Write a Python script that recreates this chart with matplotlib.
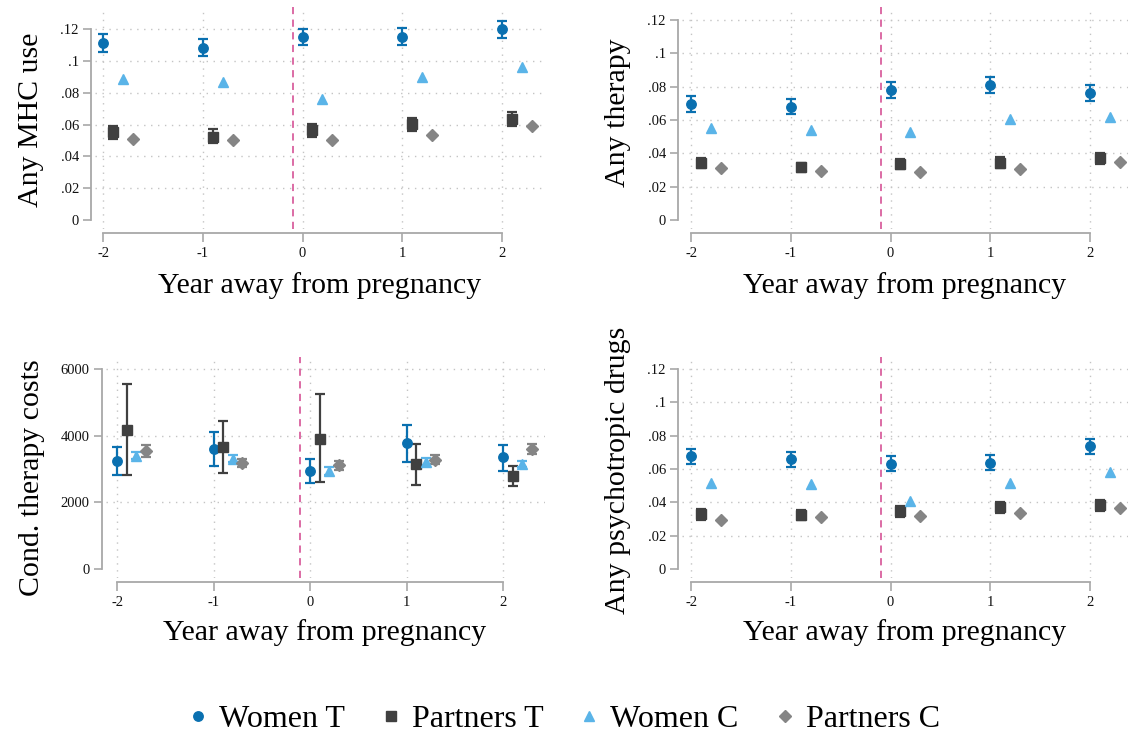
import numpy as np
import matplotlib
matplotlib.use("Agg")
import matplotlib.pyplot as plt
from matplotlib.lines import Line2D

plt.rcParams['font.family'] = ['Liberation Serif', 'DejaVu Serif']

# ---- data ----
years = [-2, -1, 0, 1, 2]
xtick_labels = ['-2', '-1', '0', '1', '2']
share_ticks = [0, 0.02, 0.04, 0.06, 0.08, 0.10, 0.12]
share_tick_labels = ['0', '.02', '.04', '.06', '.08', '.1', '.12']
cost_ticks = [0, 2000, 4000, 6000]
cost_tick_labels = ['0', '2000', '4000', '6000']
group_labels = ['Women T', 'Partners T', 'Women C', 'Partners C']

# Any MHC use
mhc_wt = [0.1110, 0.1083, 0.1152, 0.1152, 0.1198]
mhc_wt_lo = [0.1058, 0.1028, 0.1097, 0.1097, 0.1143]
mhc_wt_hi = [0.1166, 0.1135, 0.1202, 0.1206, 0.1250]
mhc_pt = [0.0553, 0.0524, 0.0563, 0.0601, 0.0632]
mhc_pt_lo = [0.0511, 0.0486, 0.0521, 0.0561, 0.0591]
mhc_pt_hi = [0.0591, 0.0570, 0.0603, 0.0641, 0.0679]
mhc_wc = [0.0884, 0.0865, 0.0758, 0.0898, 0.0963]
mhc_pc = [0.0509, 0.0505, 0.0505, 0.0534, 0.0588]

# Any therapy
ther_wt = [0.0696, 0.0680, 0.0781, 0.0811, 0.0763]
ther_wt_lo = [0.0650, 0.0636, 0.0734, 0.0763, 0.0716]
ther_wt_hi = [0.0741, 0.0724, 0.0827, 0.0857, 0.0809]
ther_pt = [0.0343, 0.0317, 0.0335, 0.0345, 0.0373]
ther_pt_lo = [0.0311, 0.0287, 0.0305, 0.0315, 0.0337]
ther_pt_hi = [0.0371, 0.0345, 0.0365, 0.0377, 0.0403]
ther_wc = [0.0552, 0.0538, 0.0530, 0.0608, 0.0620]
ther_pc = [0.0313, 0.0295, 0.0291, 0.0309, 0.0349]

# Cond. therapy costs
cost_wt = [3254, 3614, 2945, 3774, 3354]
cost_wt_lo = [2825, 3105, 2586, 3225, 2955]
cost_wt_hi = [3674, 4123, 3294, 4313, 3734]
cost_pt = [4163, 3654, 3913, 3145, 2795]
cost_pt_lo = [2815, 2895, 2616, 2526, 2476]
cost_pt_hi = [5541, 4432, 5241, 3764, 3105]
cost_wc = [3404, 3314, 2955, 3225, 3155]
cost_wc_lo = [3294, 3205, 2835, 3135, 3065]
cost_wc_hi = [3524, 3424, 3065, 3324, 3244]
cost_pc = [3544, 3195, 3115, 3284, 3604]
cost_pc_lo = [3354, 3065, 2985, 3145, 3464]
cost_pc_hi = [3734, 3304, 3245, 3424, 3744]

# Any psychotropic drugs
drug_wt = [0.0676, 0.0658, 0.0632, 0.0638, 0.0736]
drug_wt_lo = [0.0630, 0.0612, 0.0586, 0.0594, 0.0688]
drug_wt_hi = [0.0720, 0.0704, 0.0676, 0.0682, 0.0782]
drug_pt = [0.0330, 0.0324, 0.0348, 0.0372, 0.0384]
drug_pt_lo = [0.0296, 0.0294, 0.0314, 0.0338, 0.0350]
drug_pt_hi = [0.0360, 0.0354, 0.0378, 0.0402, 0.0414]
drug_wc = [0.0514, 0.0508, 0.0410, 0.0518, 0.0582]
drug_pc = [0.0296, 0.0310, 0.0318, 0.0336, 0.0368]

# ---- styling ----
W, H = 1128, 735
colors = ['#0a70b0', '#404040', '#5ab4e8', '#858585']
markers = ['o', 's', '^', 'D']
msizes = [6.8, 6.8, 7.8, 5.8]
offsets = [0.0, 0.1, 0.2, 0.3]
axis_col = '#a8a8a8'
grid_col = '#c4c4c4'
px = 0.72  # pixels -> points

fig = plt.figure(figsize=(W / 100, H / 100), dpi=100)


def panel(box, spine_x, xaxis_y, xpx, ypx, yticks, yticklabels, series,
          ylabel, ylab_pos, xlab_pos):
    left, right, top, bottom = box
    ax = fig.add_axes([left / W, 1 - bottom / H, (right - left) / W, (bottom - top) / H])
    a = (xpx[1] - xpx[0]) / 4.0
    ax.set_xlim(-2 - (xpx[0] - left) / a, 2 + (right - xpx[1]) / a)
    b = (ypx[0] - ypx[1]) / yticks[-1]
    ax.set_ylim(-(bottom - ypx[0]) / b, yticks[-1] + (ypx[1] - top) / b)

    for s in ['top', 'right']:
        ax.spines[s].set_visible(False)
    ax.spines['left'].set_position(('outward', (left - spine_x) * px))
    ax.spines['bottom'].set_position(('outward', (xaxis_y - bottom) * px))
    ax.spines['left'].set_bounds(yticks[0], yticks[-1])
    ax.spines['bottom'].set_bounds(years[0], years[-1])
    for s in ['left', 'bottom']:
        ax.spines[s].set_color(axis_col)
        ax.spines[s].set_linewidth(1.3)

    ax.set_xticks(years)
    ax.set_xticklabels(xtick_labels)
    ax.set_yticks(yticks)
    ax.set_yticklabels(yticklabels)
    ax.tick_params(axis='y', length=5.8, width=1.2, color=axis_col, pad=3,
                   labelsize=10.5, labelcolor='#111111')
    ax.tick_params(axis='x', length=6.5, width=1.2, color=axis_col, pad=3.5,
                   labelsize=10.5, labelcolor='#111111')

    for t in years:
        ax.axvline(t, color=grid_col, ls=(0, (1, 4)), lw=1.0, zorder=0)
    for t in yticks[1:]:
        ax.axhline(t, color=grid_col, ls=(0, (1, 4)), lw=1.0, zorder=0)
    ax.axvline(-0.1, color='#d9609e', ls=(0, (4, 3)), lw=1.3, zorder=1)

    for i, (vals, lo, hi) in enumerate(series):
        x = np.array(years) + offsets[i]
        y = np.array(vals)
        if lo is not None:
            err = [y - np.array(lo), np.array(hi) - y]
            ax.errorbar(x, y, yerr=err, fmt='none', ecolor=colors[i],
                        elinewidth=1.6, capsize=3.5, capthick=1.6, zorder=2)
        ax.plot(x, y, ls='none', marker=markers[i], ms=msizes[i],
                color=colors[i], mec=colors[i], zorder=3)

    fig.text(ylab_pos[0] / W, 1 - ylab_pos[1] / H, ylabel, rotation=90,
             ha='center', va='center', fontsize=21.5)
    fig.text(xlab_pos[0] / W, 1 - xlab_pos[1] / H, 'Year away from pregnancy',
             ha='center', va='center', fontsize=21.5)
    return ax


panel((95, 545, 7, 229), 91, 233, (103, 502), (220, 29), share_ticks, share_tick_labels,
      [(mhc_wt, mhc_wt_lo, mhc_wt_hi), (mhc_pt, mhc_pt_lo, mhc_pt_hi),
       (mhc_wc, None, None), (mhc_pc, None, None)],
      'Any MHC use', (31, 120), (320, 286))

panel((682, 1133, 7, 229), 678, 233, (691, 1090), (220, 20), share_ticks, share_tick_labels,
      [(ther_wt, ther_wt_lo, ther_wt_hi), (ther_pt, ther_pt_lo, ther_pt_hi),
       (ther_wc, None, None), (ther_pc, None, None)],
      'Any therapy', (618, 113), (905, 286))

panel((106, 545, 357, 578), 102, 582, (117, 503), (569, 369), cost_ticks, cost_tick_labels,
      [(cost_wt, cost_wt_lo, cost_wt_hi), (cost_pt, cost_pt_lo, cost_pt_hi),
       (cost_wc, cost_wc_lo, cost_wc_hi), (cost_pc, cost_pc_lo, cost_pc_hi)],
      'Cond. therapy costs', (32, 478), (325, 633))

panel((682, 1133, 357, 578), 678, 582, (691, 1090), (569, 369), share_ticks, share_tick_labels,
      [(drug_wt, drug_wt_lo, drug_wt_hi), (drug_pt, drug_pt_lo, drug_pt_hi),
       (drug_wc, None, None), (drug_pc, None, None)],
      'Any psychotropic drugs', (618, 470), (905, 633))

handles = [Line2D([], [], ls='none', marker=markers[i], ms=msizes[i], color=colors[i])
           for i in range(4)]
fig.legend(handles, group_labels, loc='center', bbox_to_anchor=(0.5, 1 - 719 / H),
           ncol=4, frameon=False, fontsize=23, handlelength=0.6,
           handletextpad=0.36, columnspacing=1.14)

fig.savefig('out.png', dpi=100)
